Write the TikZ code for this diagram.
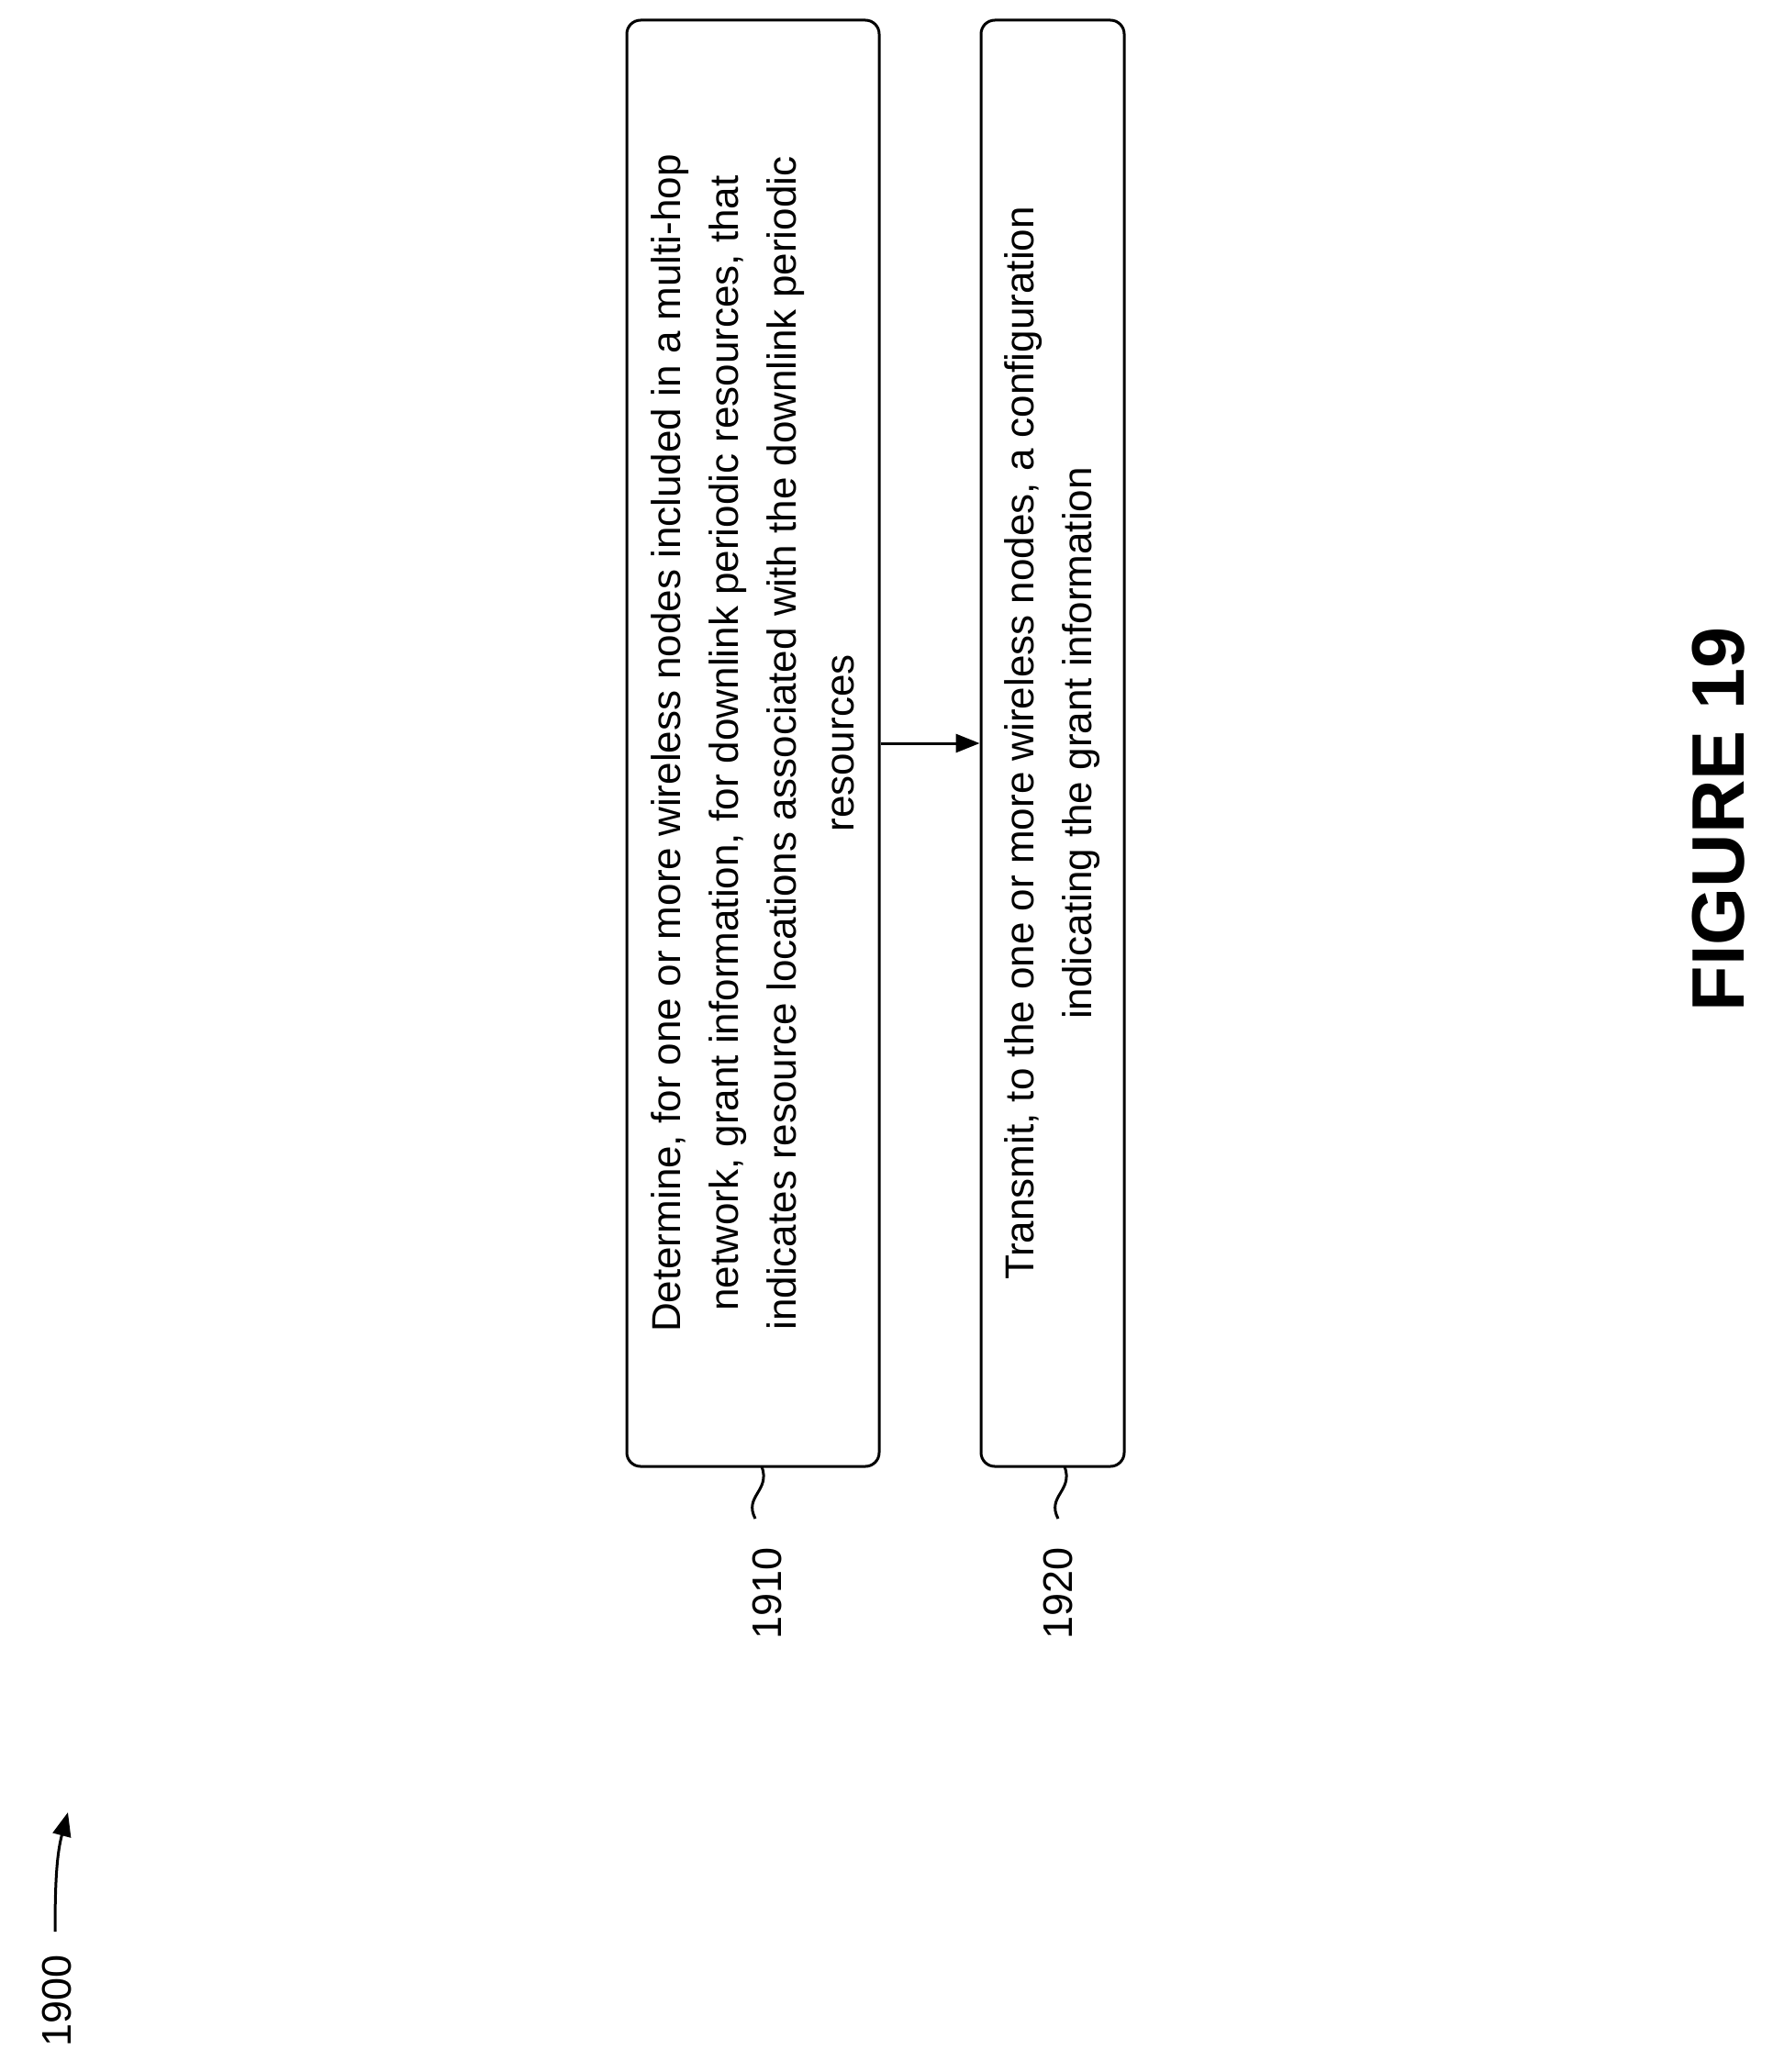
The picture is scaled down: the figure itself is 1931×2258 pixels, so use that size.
\documentclass[tikz,border=0pt]{standalone}
\usepackage{fontspec}
\setmainfont{Liberation Sans}
\usetikzlibrary{arrows.meta}
\begin{document}
\begin{tikzpicture}[x=1pt,y=-1pt,
  stepbox/.style={draw,line width=3pt,rounded corners=15pt,rotate=90,minimum width=1576pt,align=center,inner sep=0pt,font=\fontsize{44}{63}\selectfont},
  lbl/.style={rotate=90,font=\fontsize{45}{54}\selectfont},
  wire/.style={line width=3pt}]
\useasboundingbox (0,0) rectangle (1931,2258);
\node[stepbox,minimum height=275pt] (b1) at (820.5,810) {Determine, for one or more wireless nodes included in a multi-hop\\network, grant information, for downlink periodic resources, that\\indicates resource locations associated with the downlink periodic\\resources};
\node[stepbox,minimum height=156pt] (b2) at (1147,810) {Transmit, to the one or more wireless nodes, a configuration\\indicating the grant information};
\draw[wire,-{Triangle[length=26pt,width=20pt]}] (b1.south) -- (b2.north);
\coordinate (s1) at (830,1598);
\coordinate (e1) at (823,1655);
\draw[wire] (s1) .. controls (840,1625) and (810,1630) .. (e1);
\node[lbl] (l1) at (836,1736) {1910};
\coordinate (s2) at (1160,1598);
\coordinate (e2) at (1153,1655);
\draw[wire] (s2) .. controls (1170,1625) and (1140,1630) .. (e2);
\node[lbl] (l2) at (1153,1736) {1920};
\node[lbl] (l0) at (62,2180) {1900};
\coordinate (a0) at (60,2105);
\coordinate (a1) at (74,1975);
\draw[wire,-{Triangle[length=26pt,width=20pt]}] (a0) .. controls (60,2050) and (62,2020) .. (a1);
\node[rotate=90,font=\fontsize{81}{90}\selectfont\bfseries] (fig) at (1873,893) {FIGURE 19};
\end{tikzpicture}
\end{document}
